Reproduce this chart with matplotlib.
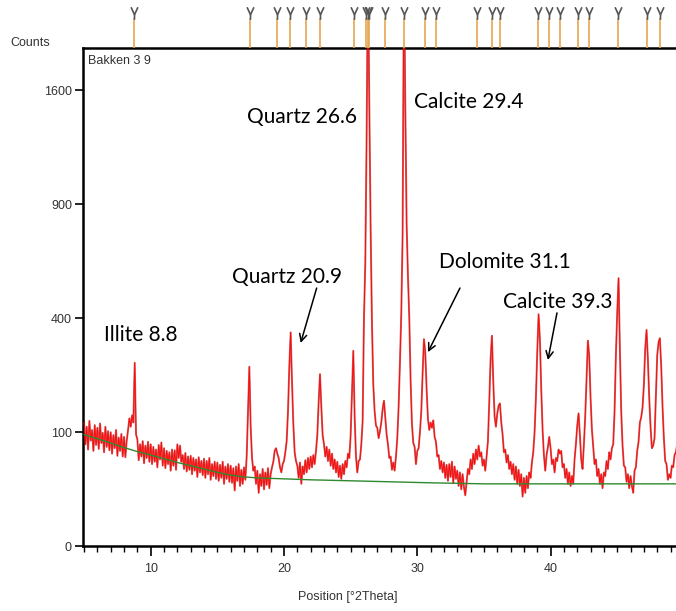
import numpy as np
import matplotlib
matplotlib.use("Agg")
import matplotlib.pyplot as plt
from matplotlib.path import Path
from matplotlib.ticker import FixedLocator, MultipleLocator

# ---- scan data (counts every 0.1 deg 2Theta, starting at 5.0) ----
scan_start = 5.0
scan_step = 0.1
counts_05_09 = [118, 80, 110, 72, 121, 86, 104, 70, 113, 79,
                108, 73, 116, 82, 99, 68, 110, 76, 102, 71,
                100, 66, 95, 74, 104, 63, 91, 70, 97, 62,
                92, 61, 86, 104, 126, 110, 132, 118, 259, 96,
                88, 57, 80, 62, 85, 53, 78, 60, 84, 55]
counts_10_14 = [80, 52, 76, 55, 72, 48, 79, 58, 83, 50,
                74, 47, 70, 52, 68, 44, 72, 50, 71, 45,
                80, 60, 78, 55, 64, 46, 67, 43, 62, 45,
                63, 40, 60, 44, 58, 37, 61, 42, 56, 39,
                59, 36, 56, 40, 60, 34, 52, 38, 55, 35]
counts_15_19 = [54, 33, 51, 36, 55, 30, 49, 35, 52, 32,
                50, 31, 47, 24, 49, 33, 52, 28, 45, 30,
                48, 34, 62, 140, 248, 110, 60, 44, 49, 30,
                44, 22, 40, 28, 46, 25, 42, 29, 47, 26,
                40, 48, 55, 70, 74, 66, 60, 48, 42, 52]
counts_20_24 = [56, 68, 85, 140, 250, 352, 210, 115, 68, 56,
                50, 36, 54, 30, 49, 40, 57, 42, 60, 46,
                62, 48, 64, 52, 70, 95, 160, 228, 150, 95,
                80, 62, 76, 56, 72, 50, 66, 46, 58, 42,
                55, 37, 50, 35, 52, 40, 56, 48, 66, 60]
counts_25_29 = [95, 180, 294, 130, 62, 42, 56, 58, 80, 120,
                400, 620, 1300, 2600, 1500, 780, 380, 200, 140, 112,
                108, 90, 102, 118, 145, 163, 128, 96, 80, 60,
                62, 45, 54, 44, 62, 90, 150, 260, 420, 750,
                2600, 1500, 800, 560, 400, 210, 115, 82, 76, 52]
counts_30_34 = [70, 74, 100, 140, 230, 330, 290, 190, 125, 104,
                118, 108, 122, 92, 84, 62, 64, 46, 56, 42,
                54, 36, 51, 33, 52, 37, 55, 31, 49, 35,
                44, 28, 42, 25, 40, 27, 20, 32, 46, 40,
                58, 46, 66, 52, 72, 58, 78, 62, 68, 50]
counts_35_39 = [58, 44, 62, 85, 160, 270, 341, 210, 130, 110,
                135, 152, 157, 118, 96, 68, 72, 54, 64, 46,
                55, 40, 52, 34, 49, 30, 45, 28, 40, 19,
                36, 22, 38, 26, 42, 36, 54, 68, 100, 170,
                290, 414, 330, 190, 105, 64, 44, 64, 76, 92]
counts_40_44 = [74, 52, 58, 42, 60, 56, 72, 66, 70, 48,
                52, 36, 46, 30, 42, 28, 38, 30, 58, 80,
                112, 136, 95, 58, 46, 80, 130, 220, 325, 280,
                170, 105, 76, 52, 58, 38, 46, 30, 40, 26,
                42, 38, 56, 46, 68, 58, 74, 80, 140, 280]
counts_45_49 = [420, 553, 300, 140, 78, 50, 48, 32, 40, 26,
                38, 28, 22, 44, 48, 70, 84, 118, 128, 148,
                200, 300, 360, 270, 170, 110, 74, 78, 90, 170,
                280, 320, 333, 250, 150, 90, 56, 52, 34, 40,
                36, 50, 48, 64, 68, 80, 86, 90, 92, 94]

# fitted background
background_pos = [5, 6, 7, 8, 9, 10, 11, 12, 13, 14, 15, 16, 17, 18, 20, 22, 25, 28, 31, 35, 50]
background_counts = [96, 89, 82, 75, 69, 64, 59, 54, 50, 46, 42, 39, 37, 36, 35, 34, 33, 32, 31, 30, 30]

# reference pattern stick positions
reference_pos = [8.73, 17.43, 19.45, 20.43, 21.63, 22.68, 25.23, 26.18, 26.28, 26.38,
                 27.55, 28.98, 30.55, 31.38, 34.45, 35.58, 36.18, 39.03, 39.85, 40.68,
                 42.03, 42.85, 45.03, 47.2, 48.18]

# axis ticks
x_ticks = [10, 20, 30, 40]
y_ticks = [0, 100, 400, 900, 1600]
y_tick_labels = ["0", "100", "400", "900", "1600"]

# peak annotations: text, text anchor (2Theta, counts), arrow tail, arrow tip
peak_labels = ["Illite 8.8", "Quartz 20.9", "Quartz 26.6", "Calcite 29.4",
               "Dolomite 31.1", "Calcite 39.3"]
label_pos = [(6.50, 324), (16.10, 533), (17.22, 1379), (29.75, 1478),
             (31.63, 596), (36.43, 437)]
arrow_tail = [None, (22.45, 513), None, None, (33.20, 513), (40.48, 419)]
arrow_tip = [None, (21.25, 318), None, None, (30.80, 290), (39.80, 267)]

counts = np.array(counts_05_09 + counts_10_14 + counts_15_19 + counts_20_24 +
                  counts_25_29 + counts_30_34 + counts_35_39 + counts_40_44 +
                  counts_45_49, dtype=float)
two_theta = scan_start + scan_step * np.arange(len(counts))

W, H = 676, 611
fig = plt.figure(figsize=(W / 100, H / 100), dpi=100)
fig.patch.set_facecolor("white")

ax_left, ax_bottom_px, ax_top_px = 83, 546.3, 48
ax = fig.add_axes([ax_left / W, 1 - ax_bottom_px / H, 1 - ax_left / W,
                   (ax_bottom_px - ax_top_px) / H])


def fwd(v):
    return np.sqrt(np.clip(v, 0, None))


def inv(v):
    return np.square(v)


ax.set_yscale("function", functions=(fwd, inv))
xlim = (4.92, 49.41)
ax.set_xlim(*xlim)
ax.set_ylim(0, 1910)

ax.plot(two_theta, counts, color="#b83a3a", lw=1.4, alpha=0.75, zorder=2)
ax.plot(two_theta, counts, color="#ff0a0a", lw=0.7, zorder=3)
ax.plot(background_pos, background_counts, color="#2f8a2f", lw=1.0, zorder=4)

ax.yaxis.set_major_locator(FixedLocator(y_ticks))
ax.set_yticklabels(y_tick_labels)
ax.xaxis.set_major_locator(FixedLocator(x_ticks))
ax.xaxis.set_minor_locator(MultipleLocator(1))
ax.yaxis.set_minor_locator(FixedLocator([]))

tick_font = dict(labelsize=9, labelcolor="#333333")
ax.tick_params(axis="y", direction="out", length=5.5, width=1.2, pad=2.5, **tick_font)
ax.tick_params(axis="x", which="major", direction="out", length=7, width=1.2, pad=5, **tick_font)
ax.tick_params(axis="x", which="minor", direction="out", length=4, width=1.0)
for lab in ax.get_xticklabels() + ax.get_yticklabels():
    lab.set_family("Liberation Sans")

for side in ("left", "bottom", "top"):
    ax.spines[side].set_linewidth(1.8)
    ax.spines[side].set_color("black")
ax.spines["right"].set_visible(False)

# peak annotations
for text, pos, tail, tip in zip(peak_labels, label_pos, arrow_tail, arrow_tip):
    ax.text(pos[0], pos[1], text, fontsize=15, family="Lato", color="black",
            ha="left", va="baseline", zorder=6)
    if tip is not None:
        ax.annotate("", xy=tip, xytext=tail,
                    arrowprops=dict(arrowstyle="->", color="black", lw=1.1,
                                    mutation_scale=13, shrinkA=0, shrinkB=0),
                    zorder=6)

# reference pattern sticks above the plot, each topped by a small fork glyph
ax_ref = fig.add_axes([ax_left / W, 1 - ax_top_px / H, 1 - ax_left / W, ax_top_px / H])
ax_ref.set_xlim(*xlim)
ax_ref.set_ylim(0, ax_top_px)
ax_ref.axis("off")
ax_ref.vlines(reference_pos, 0, 30, color="#e6a552", lw=1.2)
fork = Path([(-0.55, 1.0), (0.0, -0.2), (0.55, 1.0), (0.0, -0.2), (0.0, -1.0)],
            [Path.MOVETO, Path.LINETO, Path.LINETO, Path.MOVETO, Path.LINETO])
ax_ref.plot(reference_pos, [35] * len(reference_pos), linestyle="none",
            marker=fork, markersize=9, markeredgewidth=1.2,
            markeredgecolor="#555555", markerfacecolor="none")

fig.text(10 / W, 1 - 43 / H, "Counts", ha="left", va="center", fontsize=9,
         family="Liberation Sans", color="#333333")
fig.text(88 / W, 1 - 61 / H, "Bakken 3 9", ha="left", va="center", fontsize=9,
         family="Liberation Sans", color="#333333")
fig.text(348 / W, 1 - 597 / H, "Position [°2Theta]", ha="center", va="center",
         fontsize=9, family="Liberation Sans", color="#333333")

fig.savefig("out.png", dpi=100)
